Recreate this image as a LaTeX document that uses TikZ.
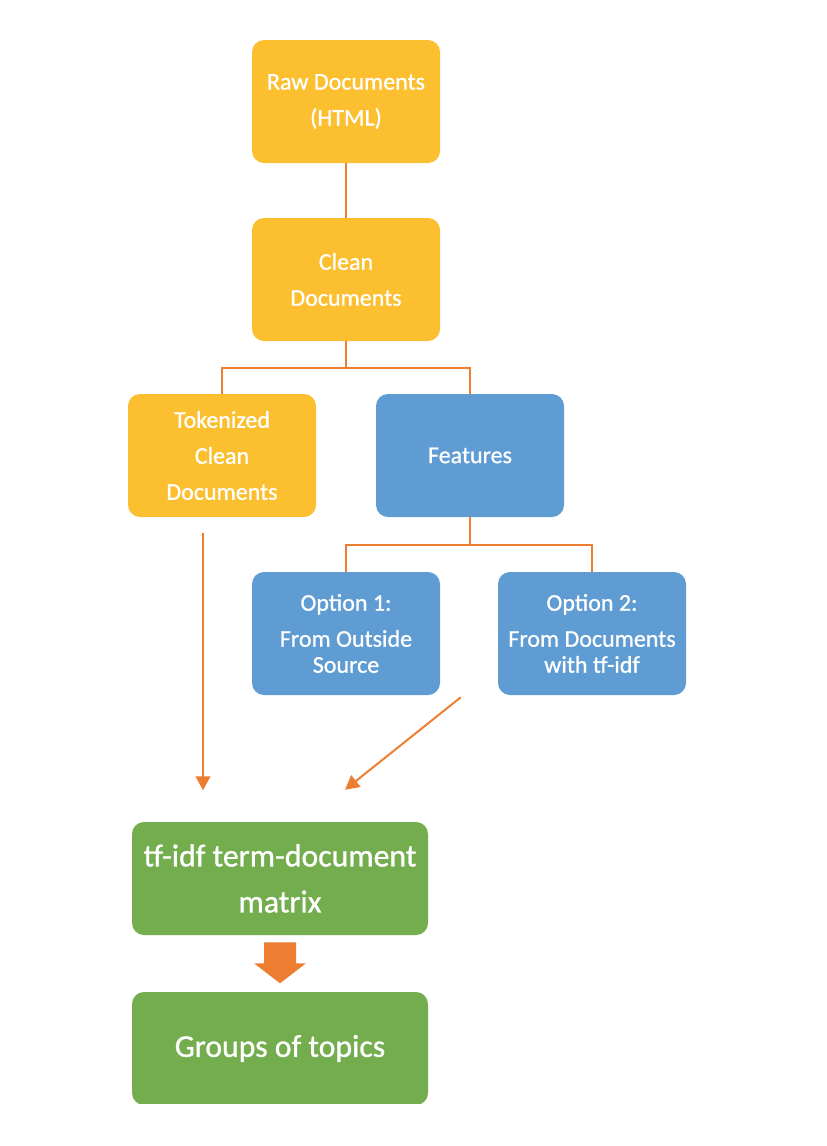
\documentclass[tikz,border=0pt]{standalone}
\usepackage{fontspec}
\setmainfont{Carlito}[FakeBold=0.9]
\usetikzlibrary{arrows.meta,calc}
\definecolor{gold}{HTML}{FBBF2F}
\definecolor{blu}{HTML}{5E9CD3}
\definecolor{grn}{HTML}{73AD4D}
\definecolor{org}{HTML}{ED7D31}
\begin{document}
\begin{tikzpicture}[x=0.75pt,y=-0.75pt,
  box/.style={rounded corners=9pt, minimum width=141pt, minimum height=92.25pt,
    text=white, align=center, inner sep=0pt, font=\fontsize{18}{27}\selectfont},
  ybox/.style={box, fill=gold},
  bbox/.style={box, fill=blu},
  gbox/.style={box, fill=grn, minimum width=222pt, minimum height=84.75pt,
    font=\fontsize{23.8}{34.5}\selectfont},
  conn/.style={draw=org, line width=1.5pt},
  arr/.style={draw=org, line width=1.5pt, -{Triangle[length=10.5pt,width=11pt]}}
]
\useasboundingbox (0,0) rectangle (826,1146);
\node[ybox] (raw) at (346,101.5) {Raw Documents\\(HTML)};
\node[ybox] (clean) at (346,279.5) {Clean\\Documents};
\node[ybox] (tok) at (222,455.5) {Tokenized\\Clean\\Documents};
\node[bbox] (feat) at (470,455.5) {Features};
\node[bbox, font=\fontsize{18}{19.5}\selectfont] (opt1) at (346,633.5) {Option 1:\\[7.5pt]From Outside\\Source};
\node[bbox, font=\fontsize{18}{19.5}\selectfont] (opt2) at (592,633.5) {Option 2:\\[7.5pt]From Documents\\with tf-idf};
\node[gbox] (tfidf) at (280,878.5) {tf-idf term-document\\matrix};
\begin{scope}
  \clip (0,0) rectangle (826,1103);
  \node[gbox] (groups) at (280,1048.5) {Groups of topics};
\end{scope}
\draw[conn] (raw) -- (clean);
\draw[conn] (clean.south) -- ++(0,27) -| (tok.north);
\draw[conn] (clean.south) -- ++(0,27) -| (feat.north);
\draw[conn] (feat.south) -- ++(0,28) -| (opt1.north);
\draw[conn] (feat.south) -- ++(0,28) -| (opt2.north);
\coordinate (a1s) at ($(tok.south)+(-19,16)$);
\coordinate (a1e) at ($(tok.south)+(-19,273)$);
\coordinate (a2s) at ($(opt2.south west)+(-37,2)$);
\coordinate (a2e) at ($(tfidf.north)+(65,-32)$);
\draw[arr] (a1s) -- (a1e);
\draw[arr] (a2s) -- (a2e);
\fill[org] ($(tfidf.south)+(-16,7)$) -- ($(tfidf.south)+(16,7)$) -- ($(tfidf.south)+(16,28)$)
  -- ($(tfidf.south)+(26,28)$) -- ($(tfidf.south)+(0,48)$) -- ($(tfidf.south)+(-26,28)$)
  -- ($(tfidf.south)+(-16,28)$) -- cycle;
\end{tikzpicture}
\end{document}
